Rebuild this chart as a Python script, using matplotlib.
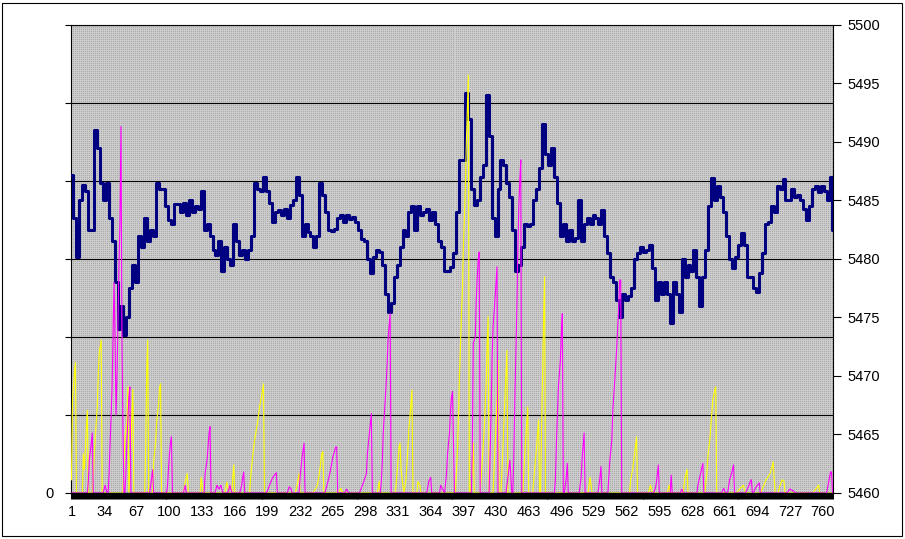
import matplotlib
matplotlib.use('Agg')
import matplotlib.pyplot as plt
import numpy as np
from matplotlib.patches import Rectangle

# ---------------- data ----------------
n_points = 770
x_labels = [str(v) for v in range(1, 761, 33)]
x_label_pos = list(range(1, 761, 33))

# navy series (right axis), sampled every 3rd point
navy_idx = list(range(1, 770, 3)) + [770]
navy_val = [
    5487.2, 5483.5, 5480.2, 5485.0, 5486.3, 5485.8, 5482.5, 5482.5, 5491.0, 5489.5,
    5486.5, 5485.0, 5486.5, 5483.5, 5481.5, 5478.0, 5474.0, 5476.0, 5473.5, 5475.0,
    5477.5, 5479.5, 5478.0, 5482.0, 5481.0, 5483.5, 5481.5, 5482.5, 5482.0, 5486.5,
    5486.0, 5486.0, 5484.5, 5483.3, 5483.0, 5484.7, 5484.7, 5484.0, 5484.8, 5483.8,
    5485.0, 5484.0, 5484.5, 5484.3, 5485.8, 5482.5, 5483.0, 5482.0, 5480.8, 5480.3,
    5481.5, 5479.0, 5481.0, 5480.0, 5479.5, 5483.0, 5481.5, 5480.3, 5480.8, 5480.0,
    5480.8, 5482.0, 5486.5, 5486.0, 5485.8, 5487.0, 5485.8, 5484.8, 5483.2, 5484.0,
    5484.2, 5483.8, 5484.3, 5483.5, 5484.6, 5485.0, 5487.0, 5485.5, 5482.0, 5483.0,
    5482.3, 5482.0, 5481.0, 5482.0, 5486.5, 5485.5, 5484.0, 5482.5, 5482.4, 5482.6,
    5483.5, 5483.8, 5483.2, 5483.8, 5483.4, 5483.6, 5483.2, 5482.5, 5481.7, 5481.5,
    5480.0, 5478.8, 5480.2, 5480.8, 5480.6, 5479.5, 5477.0, 5475.5, 5476.2, 5478.5,
    5479.5, 5481.0, 5482.5, 5482.0, 5484.0, 5484.5, 5482.5, 5484.5, 5483.8, 5484.0,
    5484.3, 5483.3, 5484.0, 5483.0, 5481.5, 5481.0, 5479.0, 5479.0, 5479.3, 5480.5,
    5484.0, 5488.5, 5488.5, 5494.2, 5492.0, 5486.0, 5484.6, 5485.0, 5487.0, 5488.0,
    5494.0, 5490.5, 5483.5, 5482.0, 5486.0, 5488.5, 5488.0, 5486.5, 5485.3, 5482.5,
    5479.0, 5479.5, 5481.0, 5483.0, 5482.8, 5483.0, 5485.0, 5486.0, 5487.8, 5491.5,
    5489.0, 5488.0, 5489.5, 5487.0, 5484.8, 5482.0, 5483.0, 5481.5, 5482.5, 5481.5,
    5481.8, 5485.0, 5481.5, 5483.0, 5483.5, 5483.0, 5483.8, 5483.5, 5483.0, 5484.2,
    5482.0, 5480.5, 5478.5, 5478.0, 5476.5, 5475.0, 5477.0, 5476.5, 5476.8, 5477.5,
    5480.0, 5480.5, 5481.0, 5480.6, 5480.8, 5481.2, 5479.2, 5476.5, 5478.0, 5477.0,
    5478.0, 5477.0, 5474.5, 5478.0, 5477.0, 5475.5, 5480.0, 5478.5, 5479.5, 5479.0,
    5480.8, 5478.5, 5476.0, 5478.5, 5480.8, 5484.5, 5486.9, 5485.0, 5486.2, 5485.3,
    5484.0, 5482.0, 5480.0, 5479.2, 5480.2, 5481.2, 5482.2, 5481.2, 5478.5, 5478.5,
    5477.5, 5477.2, 5478.8, 5480.5, 5483.0, 5483.2, 5484.5, 5484.0, 5486.2, 5486.0,
    5486.8, 5485.0, 5485.0, 5486.0, 5485.3, 5485.5, 5485.0, 5484.3, 5483.3, 5484.5,
    5486.0, 5486.2, 5485.7, 5486.2, 5485.8, 5485.0, 5487.0,
    5482.5,
]

# yellow series (left axis)
yellow_idx = [1, 2, 4, 5, 6,
              12, 13, 14, 15, 16, 17, 18,
              22, 23, 24, 26, 27, 28, 29, 31, 32,
              53, 54, 55, 57, 58, 59, 61, 62, 63, 64,
              75, 76, 77, 78, 79,
              83, 84, 86, 87, 89, 90, 91, 92,
              114, 116, 118, 119,
              131, 132, 134,
              156, 158, 160,
              163, 164, 165, 166,
              181, 182, 184, 186, 189, 191, 193, 195, 196,
              227, 229, 231, 232,
              245, 249, 250, 252, 254, 255, 256,
              271, 273, 275,
              310, 312, 313,
              328, 329, 331, 332, 333, 334, 336, 337,
              339, 341, 342, 343, 345, 346,
              350, 351, 353, 354,
              389, 391, 392, 393, 395, 396, 397, 399, 400, 401, 402, 403,
              404, 406, 407, 408,
              414, 416, 418, 420, 421, 422, 423,
              427, 429, 431, 432, 433,
              435, 437, 439, 441, 442,
              457, 459, 461, 462, 463,
              467, 469, 471, 473, 474,
              475, 476, 477, 478, 479, 480,
              523, 525, 526, 527,
              565, 566, 568, 570, 572, 573,
              584, 586, 588,
              603, 605, 606,
              619, 621, 623, 624,
              641, 643, 644, 646, 648, 649, 651, 652, 653,
              673, 676, 680, 682,
              697, 700, 703, 707, 709, 710, 712,
              715, 717, 719, 721, 722,
              750, 753, 756, 757,
              770]
yellow_val = [1.7, 12, 15.4, 16.7, 0,
              0, 5, 3, 5.5, 8.5, 10.6, 0,
              0, 2, 5, 9, 11, 15, 18, 19.6, 0,
              0, 4, 7, 9, 13.6, 0, 6, 10, 13.3, 0,
              0, 6, 16, 19.6, 0,
              0, 4, 6.5, 9, 11.5, 13.6, 14, 0,
              0, 1.5, 2.5, 0,
              0, 2, 0,
              0, 1.4, 0,
              0, 2, 3.6, 0,
              0, 2, 4.6, 6.8, 9, 11, 12.3, 14, 0,
              0, 1, 2.5, 0,
              0, 0.8, 1.4, 3, 5.1, 5.3, 0,
              0, 0.6, 0,
              0, 1.5, 0,
              0, 1, 4.2, 5.9, 6.4, 3, 0.8, 0,
              1.7, 5.9, 8.5, 9.7, 13.2, 0,
              0, 1.5, 1, 0,
              0, 5.5, 9.7, 14.9, 22.6, 26, 31.5, 39, 45, 49.5, 53.6, 0,
              0, 3, 6.4, 0,
              0, 4, 8, 14, 19, 22.6, 0,
              0, 6, 12, 17, 0,
              0, 6, 12, 18.3, 0,
              0, 5, 9, 11, 0,
              0, 3, 6, 9.4, 0,
              0, 8, 15, 22, 27.7, 0,
              0, 2, 1, 0,
              0, 1.7, 3, 5.1, 7.2, 0,
              0, 1, 0,
              0, 1, 0,
              0, 2, 3, 0,
              0, 2.5, 4.6, 6.8, 10.2, 11.9, 13.2, 13.6, 0,
              0, 0.5, 1, 0,
              0, 0.8, 1.7, 2.5, 3.4, 4, 0,
              0, 1, 1.7, 1.5, 0,
              0, 0.5, 1, 0,
              0]

# magenta series (left axis)
magenta_idx = [1,
               17, 18, 19, 21, 22, 23,
               33, 35, 37,
               38, 39, 40, 41, 42, 43, 44, 45, 46, 47, 48, 49, 50, 51, 52, 53, 54,
               55, 56, 57, 58, 59, 60, 61,
               80, 82, 83, 84,
               97, 98, 99, 100, 101, 102, 103,
               114, 116, 117,
               135, 136, 138, 139, 140, 141, 142,
               146, 148, 150, 152, 154,
               159, 161, 163,
               171, 173, 174, 175, 176,
               198, 200, 202, 204, 206, 208, 209,
               219, 221, 223, 224,
               231, 232, 234, 236, 237,
               257, 259, 260, 262, 264, 265, 268, 269, 270,
               277, 279, 281,
               292, 295, 297, 299, 300, 302, 304, 305,
               313, 314, 315, 316, 317, 318, 319, 320, 321, 322, 323, 324,
               360, 362, 364, 365,
               373, 374, 376, 378, 380, 381, 383, 384, 385, 386, 388,
               405, 406, 407, 409, 410, 411, 412, 413, 414,
               423, 424, 425, 426, 427, 429, 431, 432,
               440, 442, 444, 446,
               447, 448, 449, 450, 451, 452, 453, 454, 455, 456,
               489, 490, 491, 493, 495, 496, 497, 498,
               499, 501, 502, 503,
               514, 516, 517, 519, 520,
               533, 535, 536, 537,
               543, 545, 547, 548, 550, 552, 553, 554, 555, 556, 557,
               589, 591, 592, 594, 595,
               606, 607, 608,
               616, 618, 619,
               633, 634, 636, 639, 640,
               658, 660, 662,
               664, 666, 668, 670, 671,
               682, 685, 687, 688, 689,
               690, 692, 694, 696, 697,
               724, 727, 730, 733,
               764, 766, 768, 769, 770]
magenta_val = [0,
               0, 1.4, 4.2, 6.4, 7.7, 0,
               0, 1, 0,
               0, 2.5, 6.4, 9.7, 13.6, 20, 27, 20, 10, 15, 22, 29.5, 35, 47, 19.6, 8, 0,
               0, 2.5, 6.8, 9.7, 12.3, 13.6, 0,
               0, 2, 3, 0,
               0, 0.9, 2.9, 5.1, 6.4, 7.2, 0,
               0, 1, 0,
               0, 2.5, 4.2, 5.9, 7.7, 8.5, 0,
               0, 1, 0.5, 1, 0,
               0, 1, 0,
               0, 1, 2, 2.7, 0,
               0, 0.6, 1.3, 1.9, 2.3, 2.6, 0,
               0, 0.8, 0.5, 0,
               0, 2.1, 4.6, 6.4, 0,
               0, 0.9, 1.4, 2.5, 3.8, 4.6, 5.9, 5.9, 0,
               0, 0.5, 0,
               0, 1, 1.7, 2.5, 5.1, 7.7, 10.2, 0,
               0, 1.3, 3.8, 7.7, 9.7, 11.9, 14.1, 16.7, 20, 21.5, 23, 0,
               0, 1.5, 2, 0,
               0, 1, 0.5, 0, 2.5, 5.1, 7.7, 10.6, 12.3, 13, 0,
               0, 5.5, 19.2, 20, 24.7, 27.7, 29.9, 30.9, 0,
               0, 5, 10, 17.4, 21.3, 25, 29, 0,
               0, 2, 4.2, 0,
               0, 5, 12, 18, 23.5, 31, 36.7, 40, 42.7, 0,
               0, 1.7, 6.4, 13.6, 17, 20.5, 23, 0,
               0, 2, 3.8, 0,
               0, 2, 4.5, 7.7, 0,
               0, 2, 3.4, 0,
               0, 4.2, 6.8, 10.6, 14.5, 18.7, 21.3, 24, 27.3, 27.3, 0,
               0, 0.6, 1.3, 3.6, 0,
               0, 2.3, 0,
               0, 0.5, 0,
               0, 1, 2.1, 3.8, 0,
               0, 0.6, 0,
               0, 1.7, 2.5, 3.6, 0,
               0, 0.8, 1.5, 1.7, 0,
               0, 0.6, 1, 1.3, 0,
               0, 0.5, 0.3, 0,
               0, 1.3, 2.7, 2.7, 0]

right_ticks = [5460, 5465, 5470, 5475, 5480, 5485, 5490, 5495, 5500]
left_ticks = [0, 10, 20, 30, 40, 50, 60]
left_labels = ['0', '', '', '', '', '', '']

# ---------------- figure ----------------
W, H = 905, 539
fig = plt.figure(figsize=(W / 100, H / 100), dpi=100)
fig.patch.set_facecolor('white')
plt.rcParams['font.family'] = ['Liberation Sans', 'DejaVu Sans']

L, R, B, T = 71, 833, 493, 25
pos = [L / W, 1 - B / H, (R - L) / W, (B - T) / H]

# lower axes: background, gridlines, navy line, right axis
axr = fig.add_axes(pos)
axr.set_zorder(1)
axr.set_facecolor('#c0c0c0')
axr.set_xlim(0.5, n_points + 0.5)
axr.set_ylim(right_ticks[0], right_ticks[-1])

# dotted background texture (Excel-style pattern fill)
pw, ph = R - L, B - T
tex = np.full((ph, pw, 3), 0.80)
tex[::2, ::2, :] = 0.66
axr.imshow(tex, extent=(0.5, n_points + 0.5, right_ticks[0], right_ticks[-1]),
           aspect='auto', interpolation='nearest', zorder=0)

for k in range(7):
    axr.axhline(right_ticks[0] + (right_ticks[-1] - right_ticks[0]) * k / 6,
                color='black', lw=0.8, zorder=1)
axr.plot(navy_idx, navy_val, color='#000080', lw=2.2, zorder=3,
         drawstyle='steps-mid')
axr.yaxis.tick_right()
axr.set_yticks(right_ticks)
axr.set_yticklabels([str(t) for t in right_ticks])
axr.tick_params(axis='y', direction='out', length=5.5, width=0.8,
                pad=5, labelsize=10.5, colors='black')
axr.tick_params(axis='x', bottom=False, labelbottom=False)
for s in axr.spines.values():
    s.set_color('black')
    s.set_linewidth(0.8)

# upper axes: spikes, left axis, category axis
axl = fig.add_axes(pos)
axl.set_zorder(2)
axl.patch.set_visible(False)
for name, s in axl.spines.items():
    s.set_visible(name == 'bottom')
axl.spines['bottom'].set_color('black')
axl.spines['bottom'].set_linewidth(1.0)
axl.spines['bottom'].set_zorder(6)
axl.set_xlim(0.5, n_points + 0.5)
axl.set_ylim(left_ticks[0], left_ticks[-1])
axl.plot(yellow_idx, yellow_val, color='#ffff00', lw=0.8, zorder=3)
axl.plot(magenta_idx, magenta_val, color='#ff00ff', lw=0.8, zorder=4)
axl.set_yticks(left_ticks)
axl.set_yticklabels(left_labels)
axl.tick_params(axis='y', direction='out', length=4.5, width=0.8,
                pad=8, labelsize=10.5, colors='black')
axl.set_xticks(x_label_pos)
axl.set_xticklabels(x_labels)
axl.set_xticks(list(range(1, n_points + 1)), minor=True)
axl.tick_params(axis='x', which='both', direction='out', length=4.5,
                width=0.75, color='black', pad=4, labelsize=10.5)

# outer chart border
fig.add_artist(Rectangle((2 / W, 3 / H), 900 / W, 533 / H, transform=fig.transFigure,
                         fill=False, edgecolor='black', lw=0.8))

fig.savefig('out.png', dpi=100)
